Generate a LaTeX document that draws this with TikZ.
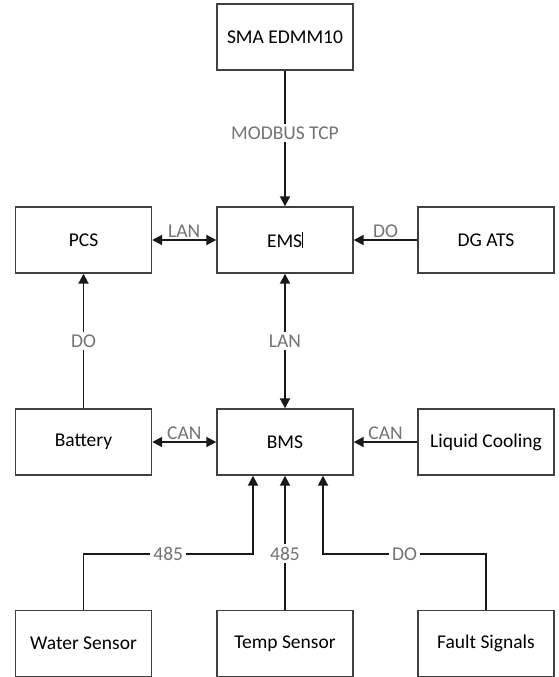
\documentclass[tikz,border=0pt]{standalone}
\usepackage{fontspec}
\setmainfont{Carlito}
\usetikzlibrary{arrows.meta}
\begin{document}
\begin{tikzpicture}[x=1pt,y=-1pt,
  box/.style={draw=black!75, line width=1.4pt, minimum width=136pt, minimum height=66pt,
    inner sep=0pt, font=\fontsize{19.5}{23}\selectfont, text=black},
  conn/.style={line width=1.9pt, draw=black!90},
  tip/.style={-{Triangle[length=10pt,width=10pt]}},
  bitip/.style={{Triangle[length=10pt,width=10pt]}-{Triangle[length=10pt,width=10pt]}},
  lbl/.style={font=\fontsize{19.5}{23}\selectfont, text=black!55, inner sep=1.5pt},
  gaplbl/.style={lbl, fill=white, inner sep=3pt}]
\useasboundingbox (0,0) rectangle (558,677);
\node[box] (sma)   at (285,37)    {SMA EDMM10};
\node[box] (pcs)   at (83.5,240)  {PCS};
\node[box] (ems)   at (285,240)   {EMS\rule[-1pt]{0.8pt}{16pt}};
\node[box] (dg)    at (486,240)   {DG ATS};
\node[box] (bat)   at (83.5,442)  {Battery};
\node[box] (bms)   at (285,442)   {BMS};
\node[box] (liq)   at (486,442)   {Liquid Cooling};
\node[box] (water) at (83.5,643.5){Water Sensor};
\node[box] (temp)  at (285,643.5) {Temp Sensor};
\node[box] (fault) at (486,643.5) {Fault Signals};
\coordinate (jl) at (253,554);
\coordinate (jr) at (323,554);
% connectors
\draw[conn,tip] (sma) -- (ems) node[pos=0.46, gaplbl] {MODBUS TCP};
\draw[conn,bitip] (pcs) -- (ems) node[midway, above, lbl] {LAN};
\draw[conn,tip] (dg) -- (ems) node[midway, above, lbl] {DO};
\draw[conn,tip] (bat) -- (pcs) node[midway, gaplbl] {DO};
\draw[conn,bitip] (ems) -- (bms) node[midway, gaplbl] {LAN};
\draw[conn,bitip] (bat) -- (bms) node[midway, above, lbl] {CAN};
\draw[conn,tip] (liq) -- (bms) node[midway, above, lbl] {CAN};
\draw[conn,tip] (water.north) |- node[pos=0.75, gaplbl] {485} (jl) -- (jl |- bms.south);
\draw[conn,tip] (temp) -- (bms) node[pos=0.42, gaplbl] {485};
\draw[conn,tip] (fault.north) |- node[pos=0.75, gaplbl] {DO} (jr) -- (jr |- bms.south);
\end{tikzpicture}
\end{document}
